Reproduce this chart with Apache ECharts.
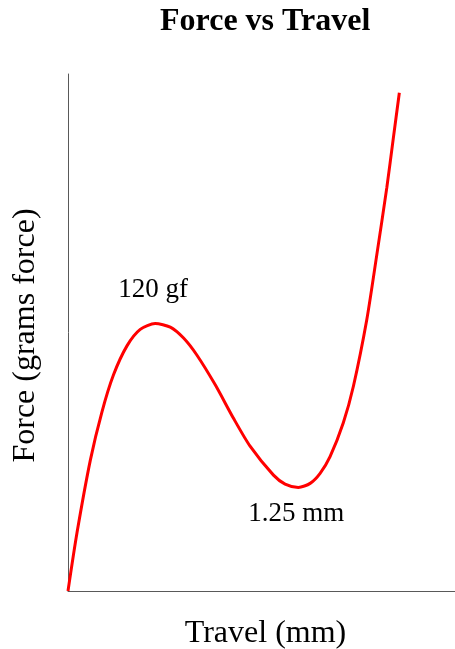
<!DOCTYPE html>
<html>
<head>
<meta charset="utf-8">
<script src="https://cdn.jsdelivr.net/npm/echarts@6/dist/echarts.min.js"></script>
<style>
html,body{margin:0;padding:0;background:#fff;}
#chart{width:455px;height:649px;}
</style>
</head>
<body>
<div id="chart"></div>
<script>
// Travel (mm) and force (grams force)
var travel = [0, 0.049, 0.121, 0.184, 0.247, 0.320, 0.392, 0.473, 0.555, 0.627, 0.699, 0.799, 0.898, 0.988, 1.115, 1.178, 1.25, 1.314, 1.368, 1.422, 1.494, 1.549, 1.621, 1.675, 1.730, 1.765, 1.798];
var force  = [0, 26.2, 58.6, 80.3, 97.0, 110.0, 117.4, 120, 118.4, 113.5, 105.9, 92.5, 77.5, 65.0, 52.0, 48.0, 46.5, 48.3, 52.8, 60.3, 75.5, 92.0, 121.6, 150.5, 181.0, 203.0, 223.6];

// Annotations: peak force and valley travel
var annotationText  = ['120 gf', '1.25 mm'];
var annotationTravel = [0.473, 1.25];
var annotationForce  = [120, 46.5];

var titleText = 'Force vs Travel';
var xName = 'Travel (mm)';
var yName = 'Force (grams force)';
var xMax = 2.1;
var yMax = 232;

var seriesData = travel.map(function (t, i) { return [t, force[i]]; });
var offsets = [[-2, -34], [-2, 27]];
var markData = annotationText.map(function (txt, i) {
  return {
    coord: [annotationTravel[i], annotationForce[i]],
    value: txt,
    label: { offset: offsets[i] }
  };
});

var FONT = 'Liberation Serif, Times New Roman, serif';
var chart = echarts.init(document.getElementById('chart'), null, { renderer: 'canvas' });
chart.setOption({
  backgroundColor: '#ffffff',
  animation: false,
  title: {
    text: titleText,
    left: 160,
    top: 6,
    padding: 0,
    textStyle: { fontFamily: FONT, fontWeight: 'bold', fontSize: 32, color: '#000' }
  },
  grid: { left: 68, right: 0, top: 74, bottom: 58, containLabel: false, outerBoundsMode: 'none' },
  xAxis: {
    type: 'value',
    min: 0, max: xMax,
    name: xName,
    nameLocation: 'middle',
    nameGap: 27,
    nameTextStyle: { fontFamily: FONT, fontSize: 32, color: '#000', padding: [0, 0, 0, 8] },
    axisLine: { show: true, lineStyle: { color: '#595959', width: 1 } },
    axisTick: { show: false },
    axisLabel: { show: false },
    splitLine: { show: false }
  },
  yAxis: {
    type: 'value',
    min: 0, max: yMax,
    name: yName,
    nameLocation: 'middle',
    nameGap: 26,
    nameTextStyle: { fontFamily: FONT, fontSize: 32, color: '#000', padding: [0, 0, 0, -6] },
    axisLine: { show: true, lineStyle: { color: '#595959', width: 1 } },
    axisTick: { show: false },
    axisLabel: { show: false },
    splitLine: { show: false }
  },
  series: [{
    type: 'line',
    data: seriesData,
    smooth: 0.25,
    showSymbol: false,
    symbol: 'none',
    lineStyle: { color: '#ff0000', width: 3 },
    markPoint: {
      symbol: 'circle',
      symbolSize: 0,
      label: {
        show: true,
        position: 'inside',
        formatter: '{c}',
        fontFamily: FONT,
        fontSize: 27,
        color: '#000'
      },
      data: markData
    }
  }]
});
</script>
</body>
</html>
